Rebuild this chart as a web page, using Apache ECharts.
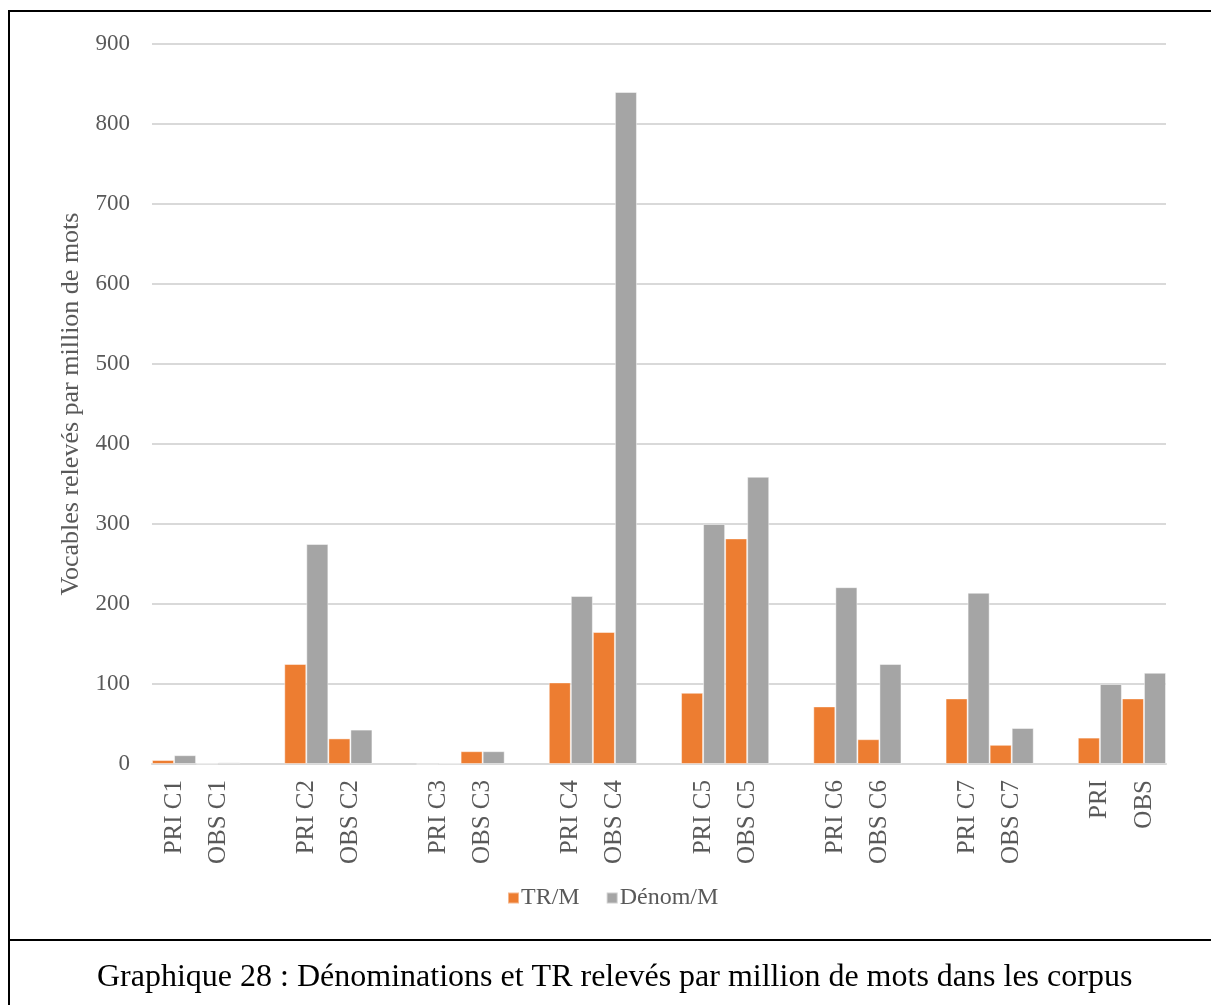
<!DOCTYPE html>
<html>
<head>
<meta charset="utf-8">
<script src="https://cdn.jsdelivr.net/npm/echarts@6/dist/echarts.min.js"></script>
<style>
  html, body { margin: 0; padding: 0; background: #fff; }
  #chart { width: 1211px; height: 1005px; }
</style>
</head>
<body>
<div id="chart"></div>
<script>
var categories = [
  "PRI C1", "OBS C1", "",
  "PRI C2", "OBS C2", "",
  "PRI C3", "OBS C3", "",
  "PRI C4", "OBS C4", "",
  "PRI C5", "OBS C5", "",
  "PRI C6", "OBS C6", "",
  "PRI C7", "OBS C7", "",
  "PRI", "OBS"
];
var trValues = [
  5, 0.5, null,
  125, 32, null,
  0, 16, null,
  102, 165, null,
  89, 282, null,
  72, 31, null,
  82, 24, null,
  33, 82
];
var denomValues = [
  11, 2, null,
  275, 43, null,
  0.5, 16, null,
  210, 840, null,
  300, 359, null,
  221, 125, null,
  214, 45, null,
  100, 114
];
var yTicks = [0, 100, 200, 300, 400, 500, 600, 700, 800, 900];

var myChart = echarts.init(document.getElementById("chart"));
var font = "'Liberation Serif', 'Times New Roman', serif";

option = {
  backgroundColor: "#fff",
  animation: false,
  textStyle: { fontFamily: font },
  title: {
    text: "Graphique 28 : Dénominations et TR relevés par million de mots dans les corpus",
    left: 92,
    top: 957,
    textStyle: {
      fontFamily: font,
      fontWeight: "normal",
      fontSize: 32,
      color: "#000"
    }
  },
  legend: {
    top: 881,
    left: 502,
    itemWidth: 11,
    itemHeight: 11,
    itemGap: 26,
    icon: "rect",
    textStyle: { fontFamily: font, fontSize: 24, color: "#595959", padding: [0, 0, 0, -3] },
    data: ["TR/M", "Dénom/M"]
  },
  grid: {
    left: 152,
    right: 45,
    top: 44,
    bottom: 1005 - 764
  },
  xAxis: {
    type: "category",
    data: categories,
    axisLine: { lineStyle: { color: "#d9d9d9", width: 2 } },
    axisTick: { show: false },
    axisLabel: {
      rotate: 90,
      interval: 0,
      margin: 16,
      fontFamily: font,
      fontSize: 25,
      color: "#595959"
    }
  },
  yAxis: {
    type: "value",
    min: 0,
    max: 900,
    interval: 100,
    name: "Vocables relevés par million de mots",
    nameLocation: "middle",
    nameGap: 64,
    nameTextStyle: { fontFamily: font, fontSize: 26, color: "#595959" },
    axisLine: { show: false },
    axisTick: { show: false },
    splitLine: { lineStyle: { color: "#d9d9d9", width: 2 } },
    axisLabel: {
      margin: 22,
      fontFamily: font,
      fontSize: 23,
      color: "#595959",
      formatter: function (v) { return yTicks.indexOf(v) >= 0 ? String(v) : ""; }
    }
  },
  graphic: [
    { type: "line", shape: { x1: 9, y1: 10, x2: 9, y2: 1005 }, style: { stroke: "#000", lineWidth: 2 } },
    { type: "line", shape: { x1: 8, y1: 11, x2: 1211, y2: 11 }, style: { stroke: "#000", lineWidth: 2 } },
    { type: "line", shape: { x1: 8, y1: 940, x2: 1211, y2: 940 }, style: { stroke: "#000", lineWidth: 2 } }
  ],
  series: [
    {
      name: "TR/M",
      type: "bar",
      data: trValues,
      barGap: "0%",
      barCategoryGap: "0%",
      itemStyle: { color: "#ed7d31", borderColor: "rgba(255,255,255,0.45)", borderWidth: 1 }
    },
    {
      name: "Dénom/M",
      type: "bar",
      data: denomValues,
      barGap: "0%",
      barCategoryGap: "0%",
      itemStyle: { color: "#a5a5a5", borderColor: "rgba(255,255,255,0.45)", borderWidth: 1 }
    }
  ]
};

myChart.setOption(option);
</script>
</body>
</html>
